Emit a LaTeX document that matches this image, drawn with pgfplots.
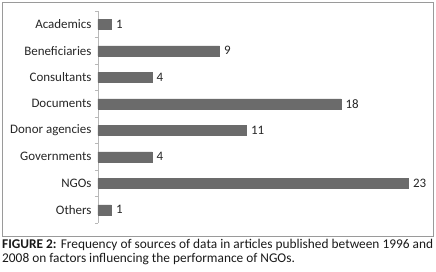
\documentclass[border=0pt]{standalone}
\usepackage{pgfplots}
\pgfplotsset{compat=1.18}
\usepackage{fontspec}
\setmainfont{Carlito}
\definecolor{bargray}{HTML}{6B6B6B}
\definecolor{framegray}{HTML}{9A9A9A}
\definecolor{axisgray}{HTML}{B8B8B8}
\begin{document}
\begin{tikzpicture}[x=1bp,y=1bp]
\useasboundingbox (-98,-48) rectangle (338,223);
\begin{axis}[name=ax, at={(0,0)}, anchor=south west,
  scale only axis, width=324bp, height=212bp,
  xmin=0, xmax=24, ymin=-0.5, ymax=7.5, y dir=reverse,
  xbar, bar width=10bp, bar shift=0pt,
  axis x line=none, axis y line*=left,
  y axis line style={axisgray, line width=0.8pt},
  ytick={0,...,7},
  yticklabels={Academics,Beneficiaries,Consultants,Documents,Donor agencies,Governments,NGOs,Others},
  major tick length=0pt,
  minor ytick={-0.5,0.5,...,7.5},
  minor tick length=3bp, tick align=outside,
  minor tick style={axisgray, line width=0.8pt},
  yticklabel style={font=\fontsize{13}{15}\selectfont, text=black!85, xshift=-3bp},
  nodes near coords={\pgfmathprintnumber[assume math mode=true]{\pgfplotspointmeta}},
  nodes near coords align=horizontal,
  every node near coord/.append style={font=\fontsize{13}{15}\selectfont, text=black!85, xshift=1bp},
  clip=false,
]
\addplot[fill=bargray, draw=bargray] coordinates {
(1,0) (9,1) (4,2) (18,3) (11,4) (4,5) (23,6) (1,7)
};
\end{axis}
\draw[framegray, line width=0.9pt] (-96,-13) rectangle (335,221);
\node[anchor=north west, inner sep=0pt, text width=431bp, align=justify,
  font=\fontsize{13.4}{14.5}\selectfont, text=black!90] at (-96,-16)
  {\textbf{FIGURE 2:} Frequency of sources of data in articles published between 1996 and\linebreak
   2008 on factors influencing the performance of NGOs.};
\end{tikzpicture}
\end{document}
